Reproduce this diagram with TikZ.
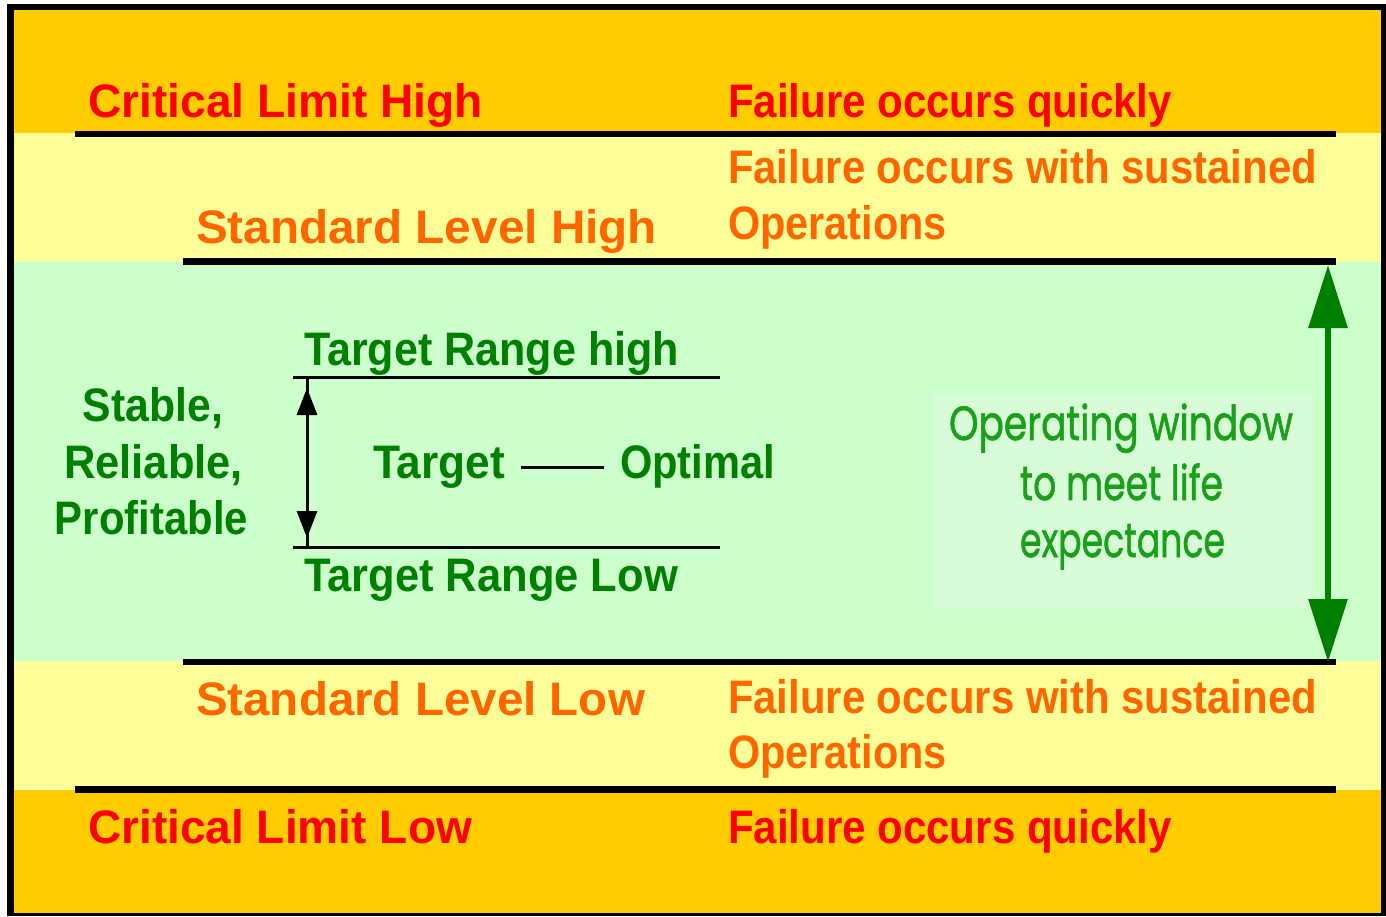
\documentclass[tikz,border=0pt]{standalone}
\usepackage{fontspec}
\usepackage{graphicx}
\usetikzlibrary{arrows.meta}
\setmainfont{Liberation Sans}
\newfontfamily\pixfont{Liberation Sans}
\newfontfamily\geofont{Poppins}[FakeBold=1.4]
\definecolor{bandgold}{HTML}{FFCC00}
\definecolor{bandyellow}{HTML}{FFFF99}
\definecolor{bandgreen}{HTML}{CCFFCC}
\definecolor{boxgreen}{HTML}{D8FCD8}
\definecolor{txtred}{HTML}{FF0000}
\definecolor{txtorange}{HTML}{FF6600}
\definecolor{txtgreen}{HTML}{008000}
\definecolor{opgreen}{HTML}{1BA01B}
\definecolor{arrowgreen}{HTML}{008000}
\newcommand\fitw[2]{\resizebox{#1pt}{\height}{#2}}
\tikzset{
  lbl/.style={anchor=base west, inner sep=0pt, outer sep=0pt,
    font=\pixfont\bfseries\fontsize{47}{56}\selectfont},
  crit/.style={lbl, text=txtred},
  stdl/.style={lbl, text=txtorange},
  tgtl/.style={lbl, text=txtgreen},
  stab/.style={lbl, anchor=base, text=txtgreen},
  optxt/.style={anchor=base, inner sep=0pt, outer sep=0pt,
    font=\geofont\fontsize{48}{56}\selectfont, text=opgreen},
  bandline/.style={line width=6.5pt, black},
  rangeline/.style={line width=3pt, black},
  garrow/.style={line width=6pt, draw=arrowgreen,
    {Triangle[width=38pt,length=63pt,fill=arrowgreen]}-{Triangle[width=38pt,length=63pt,fill=arrowgreen]}},
  barrow/.style={line width=3pt, draw=black,
    {Triangle[width=20pt,length=27pt]}-{Triangle[width=20pt,length=27pt]}},
}
\begin{document}
\begin{tikzpicture}[x=1pt,y=-1pt]
\useasboundingbox (0,0) rectangle (1386,916);
\fill[white] (0,0) rectangle (1386,916);
% frame and bands
\fill[black] (7,4) rectangle (1386,916);
\fill[bandgold]   (14,10)  rectangle (1381,133);
\fill[bandyellow] (14,133) rectangle (1381,262);
\fill[bandgreen]  (14,262) rectangle (1381,661);
\fill[bandyellow] (14,661) rectangle (1381,790);
\fill[bandgold]   (14,790) rectangle (1381,913);
% band lines
\draw[bandline] (75,134) -- (1336,134);
\draw[bandline] (183,261.5) -- (1336,261.5);
\draw[bandline] (183,662) -- (1336,662);
\draw[bandline] (75,789.5) -- (1336,789.5);
% operating window box
\fill[boxgreen] (933,395) rectangle (1313,607);
% texts top
\node[crit] (clh) at (88,117) {\fitw{395}{Critical Limit High}};
\node[crit] (fq1) at (728,117) {\fitw{444}{Failure occurs quickly}};
\node[stdl] (fs1) at (728,183) {\fitw{589}{Failure occurs with sustained}};
\node[stdl] (op1) at (728,239) {\fitw{219}{Operations}};
\node[stdl] (slh) at (196,243) {\fitw{461}{Standard Level High}};
% middle
\node[tgtl] (trh) at (304,365) {\fitw{375}{Target Range high}};
\node[tgtl] (trl) at (304,591) {\fitw{374}{Target Range Low}};
\node[tgtl] (tgt) at (373,478) {\fitw{132}{Target}};
\node[tgtl] (opt) at (620,478) {\fitw{155}{Optimal}};
\node[stab] (stb) at (153,421) {\fitw{140}{Stable,}};
\node[stab] (rel) at (153.5,478) {\fitw{179}{Reliable,}};
\node[stab] (prf) at (151.5,534) {\fitw{193}{Profitable}};
\draw[rangeline] ([xshift=16pt,yshift=11pt]tgt.base east) -- ([xshift=-16pt,yshift=11pt]opt.base west);
% target range lines and arrow
\draw[rangeline] (293,377) -- (720,377);
\draw[rangeline] (293,547) -- (720,547);
\coordinate (bt) at (307,377);
\coordinate (bb) at (307,547);
\coordinate (btip1) at (307,388);
\coordinate (btip2) at (307,538);
\draw[rangeline] (bt) -- (bb);
\draw[barrow] (btip1) -- (btip2);
% operating window text
\node[optxt] (ow1) at (1121,440) {\fitw{344}{Operating window}};
\node[optxt] (ow2) at (1121.5,500) {\fitw{203}{to meet life}};
\node[optxt] (ow3) at (1122.5,557) {\fitw{205}{expectance}};
% green arrow
\coordinate (gtop) at (1328,265);
\coordinate (gbot) at (1328,662);
\draw[garrow] (gtop) -- (gbot);
% bottom texts
\node[stdl] (sll) at (196,715) {\fitw{449}{Standard Level Low}};
\node[stdl] (fs2) at (728,713) {\fitw{589}{Failure occurs with sustained}};
\node[stdl] (op2) at (728,768) {\fitw{219}{Operations}};
\node[crit] (cll) at (88,843) {\fitw{384}{Critical Limit Low}};
\node[crit] (fq2) at (728,843) {\fitw{444}{Failure occurs quickly}};
\end{tikzpicture}
\end{document}
